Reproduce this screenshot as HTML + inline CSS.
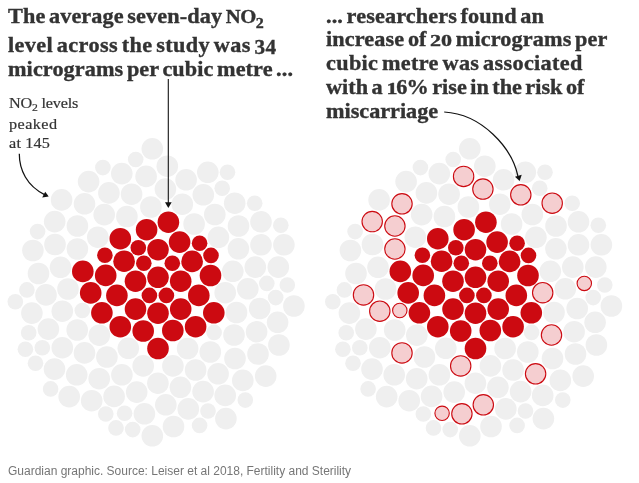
<!DOCTYPE html>
<html lang="en"><head><meta charset="utf-8"><title>NO2 and miscarriage risk</title>
<style>
html,body{margin:0;padding:0;background:#fff;}
body{width:639px;height:483px;position:relative;overflow:hidden;font-family:"Liberation Serif",serif;color:#333;}
svg{position:absolute;left:0;top:0;}
.t{position:absolute;white-space:nowrap;transform-origin:0 0;line-height:1;}
.h{font-weight:bold;font-size:21px;color:#333;-webkit-text-stroke:0.35px #333;word-spacing:-2px;}
.a{font-size:15px;color:#333;-webkit-text-stroke:0.2px #333;}
.f{font-family:"Liberation Sans",sans-serif;font-size:12px;color:#767676;}
.os{display:inline-block;font-size:16px;transform:scaleX(1.3);transform-origin:0 100%;letter-spacing:0;}
sub{font-size:0.72em;vertical-align:baseline;position:relative;top:0.3em;line-height:0;}
</style></head><body>
<svg width="639" height="483" viewBox="0 0 639 483">
<g fill="#efefef">
<circle cx="152.3" cy="148.8" r="10.8"/>
<circle cx="135.7" cy="159.5" r="7.8"/>
<circle cx="102.9" cy="167.6" r="7.8"/>
<circle cx="167.3" cy="166.2" r="10.8"/>
<circle cx="121.8" cy="173.6" r="10.8"/>
<circle cx="146.1" cy="176.4" r="10.8"/>
<circle cx="186.1" cy="179.8" r="10.8"/>
<circle cx="207.8" cy="172.3" r="10.8"/>
<circle cx="227.5" cy="172.3" r="7.8"/>
<circle cx="88.6" cy="181.6" r="10.8"/>
<circle cx="165.4" cy="189.1" r="10.8"/>
<circle cx="108.9" cy="192.9" r="10.8"/>
<circle cx="131.6" cy="194.2" r="10.8"/>
<circle cx="203.3" cy="194.8" r="10.8"/>
<circle cx="222.2" cy="188.2" r="7.8"/>
<circle cx="61.6" cy="199.9" r="10.8"/>
<circle cx="84.5" cy="203.8" r="10.8"/>
<circle cx="182.3" cy="204.2" r="10.8"/>
<circle cx="150.9" cy="207.0" r="10.8"/>
<circle cx="234.7" cy="203.2" r="10.8"/>
<circle cx="254.7" cy="203.2" r="7.8"/>
<circle cx="104.2" cy="214.6" r="10.8"/>
<circle cx="126.9" cy="216.5" r="10.8"/>
<circle cx="214.8" cy="214.5" r="10.8"/>
<circle cx="54.7" cy="221.6" r="10.8"/>
<circle cx="77.4" cy="226.0" r="10.8"/>
<circle cx="194.1" cy="224.0" r="10.8"/>
<circle cx="238.5" cy="226.0" r="10.8"/>
<circle cx="261.0" cy="221.8" r="10.8"/>
<circle cx="280.8" cy="225.2" r="7.8"/>
<circle cx="37.6" cy="231.6" r="7.8"/>
<circle cx="97.8" cy="237.2" r="10.8"/>
<circle cx="218.4" cy="237.3" r="10.8"/>
<circle cx="55.0" cy="244.5" r="10.8"/>
<circle cx="77.4" cy="249.0" r="10.8"/>
<circle cx="32.9" cy="250.5" r="10.8"/>
<circle cx="238.4" cy="248.8" r="10.8"/>
<circle cx="261.0" cy="244.8" r="10.8"/>
<circle cx="283.9" cy="244.8" r="10.8"/>
<circle cx="60.5" cy="267.3" r="10.8"/>
<circle cx="38.5" cy="273.5" r="10.8"/>
<circle cx="232.8" cy="271.3" r="10.8"/>
<circle cx="255.3" cy="267.1" r="10.8"/>
<circle cx="278.3" cy="267.1" r="10.8"/>
<circle cx="68.0" cy="289.0" r="10.8"/>
<circle cx="26.9" cy="289.9" r="7.8"/>
<circle cx="46.0" cy="294.9" r="10.8"/>
<circle cx="225.2" cy="292.7" r="10.8"/>
<circle cx="247.8" cy="288.8" r="10.8"/>
<circle cx="266.8" cy="283.4" r="7.8"/>
<circle cx="287.3" cy="285.0" r="7.8"/>
<circle cx="275.7" cy="297.6" r="7.8"/>
<circle cx="15.3" cy="301.8" r="7.8"/>
<circle cx="293.9" cy="306.0" r="10.8"/>
<circle cx="31.9" cy="313.1" r="10.8"/>
<circle cx="62.3" cy="311.2" r="10.8"/>
<circle cx="82.3" cy="310.5" r="7.8"/>
<circle cx="236.5" cy="312.5" r="10.8"/>
<circle cx="259.7" cy="308.5" r="10.8"/>
<circle cx="277.6" cy="322.3" r="10.8"/>
<circle cx="48.4" cy="329.1" r="10.8"/>
<circle cx="28.7" cy="332.8" r="7.8"/>
<circle cx="77.2" cy="330.0" r="10.8"/>
<circle cx="99.3" cy="335.2" r="10.8"/>
<circle cx="214.1" cy="332.4" r="7.8"/>
<circle cx="234.0" cy="335.0" r="10.8"/>
<circle cx="256.6" cy="331.7" r="10.8"/>
<circle cx="25.4" cy="349.2" r="7.8"/>
<circle cx="42.3" cy="347.8" r="7.8"/>
<circle cx="62.3" cy="347.7" r="10.8"/>
<circle cx="84.5" cy="352.9" r="10.8"/>
<circle cx="106.9" cy="357.0" r="10.8"/>
<circle cx="128.3" cy="348.3" r="10.8"/>
<circle cx="187.6" cy="348.5" r="10.8"/>
<circle cx="210.3" cy="352.0" r="10.8"/>
<circle cx="235.0" cy="358.5" r="10.8"/>
<circle cx="258.0" cy="354.0" r="10.8"/>
<circle cx="278.9" cy="345.0" r="10.8"/>
<circle cx="35.5" cy="363.3" r="7.8"/>
<circle cx="54.5" cy="369.1" r="10.8"/>
<circle cx="76.7" cy="374.8" r="10.8"/>
<circle cx="99.2" cy="378.7" r="10.8"/>
<circle cx="121.9" cy="374.8" r="10.8"/>
<circle cx="143.2" cy="365.9" r="10.8"/>
<circle cx="172.9" cy="365.9" r="10.8"/>
<circle cx="195.6" cy="370.0" r="10.8"/>
<circle cx="218.1" cy="373.8" r="10.8"/>
<circle cx="242.8" cy="380.4" r="10.8"/>
<circle cx="265.7" cy="376.1" r="10.8"/>
<circle cx="50.6" cy="388.9" r="7.8"/>
<circle cx="69.2" cy="396.6" r="10.8"/>
<circle cx="91.7" cy="400.7" r="10.8"/>
<circle cx="114.1" cy="396.4" r="10.8"/>
<circle cx="136.7" cy="392.1" r="10.8"/>
<circle cx="157.9" cy="383.2" r="10.8"/>
<circle cx="180.4" cy="387.3" r="10.8"/>
<circle cx="203.1" cy="391.6" r="10.8"/>
<circle cx="225.2" cy="395.4" r="10.8"/>
<circle cx="245.3" cy="400.1" r="7.8"/>
<circle cx="105.8" cy="414.0" r="7.8"/>
<circle cx="124.6" cy="413.3" r="7.8"/>
<circle cx="144.4" cy="413.8" r="10.8"/>
<circle cx="165.8" cy="404.8" r="10.8"/>
<circle cx="188.3" cy="408.9" r="10.8"/>
<circle cx="208.0" cy="411.0" r="7.8"/>
<circle cx="225.9" cy="418.6" r="10.8"/>
<circle cx="116.0" cy="427.9" r="7.8"/>
<circle cx="132.7" cy="429.6" r="7.8"/>
<circle cx="152.3" cy="435.8" r="10.8"/>
<circle cx="173.5" cy="426.5" r="10.8"/>
<circle cx="199.6" cy="425.4" r="7.8"/>
<circle cx="469.8" cy="148.8" r="10.8"/>
<circle cx="453.2" cy="159.5" r="7.8"/>
<circle cx="420.4" cy="167.6" r="7.8"/>
<circle cx="484.8" cy="166.2" r="10.8"/>
<circle cx="439.3" cy="173.6" r="10.8"/>
<circle cx="503.6" cy="179.8" r="10.8"/>
<circle cx="525.3" cy="172.3" r="10.8"/>
<circle cx="545.0" cy="172.3" r="7.8"/>
<circle cx="406.1" cy="181.6" r="10.8"/>
<circle cx="426.4" cy="192.9" r="10.8"/>
<circle cx="449.1" cy="194.2" r="10.8"/>
<circle cx="539.7" cy="188.2" r="7.8"/>
<circle cx="379.1" cy="199.9" r="10.8"/>
<circle cx="499.8" cy="204.2" r="10.8"/>
<circle cx="468.4" cy="207.0" r="10.8"/>
<circle cx="572.2" cy="203.2" r="7.8"/>
<circle cx="421.7" cy="214.6" r="10.8"/>
<circle cx="444.4" cy="216.5" r="10.8"/>
<circle cx="532.3" cy="214.5" r="10.8"/>
<circle cx="511.6" cy="224.0" r="10.8"/>
<circle cx="556.0" cy="226.0" r="10.8"/>
<circle cx="578.5" cy="221.8" r="10.8"/>
<circle cx="598.3" cy="225.2" r="7.8"/>
<circle cx="355.1" cy="231.6" r="7.8"/>
<circle cx="415.3" cy="237.2" r="10.8"/>
<circle cx="535.9" cy="237.3" r="10.8"/>
<circle cx="372.5" cy="244.5" r="10.8"/>
<circle cx="350.4" cy="250.5" r="10.8"/>
<circle cx="555.9" cy="248.8" r="10.8"/>
<circle cx="578.5" cy="244.8" r="10.8"/>
<circle cx="601.4" cy="244.8" r="10.8"/>
<circle cx="378.0" cy="267.3" r="10.8"/>
<circle cx="356.0" cy="273.5" r="10.8"/>
<circle cx="550.3" cy="271.3" r="10.8"/>
<circle cx="572.8" cy="267.1" r="10.8"/>
<circle cx="595.8" cy="267.1" r="10.8"/>
<circle cx="385.5" cy="289.0" r="10.8"/>
<circle cx="344.4" cy="289.9" r="7.8"/>
<circle cx="565.3" cy="288.8" r="10.8"/>
<circle cx="604.8" cy="285.0" r="7.8"/>
<circle cx="593.2" cy="297.6" r="7.8"/>
<circle cx="332.8" cy="301.8" r="7.8"/>
<circle cx="611.4" cy="306.0" r="10.8"/>
<circle cx="349.4" cy="313.1" r="10.8"/>
<circle cx="554.0" cy="312.5" r="10.8"/>
<circle cx="577.2" cy="308.5" r="10.8"/>
<circle cx="595.1" cy="322.3" r="10.8"/>
<circle cx="365.9" cy="329.1" r="10.8"/>
<circle cx="346.2" cy="332.8" r="7.8"/>
<circle cx="394.7" cy="330.0" r="10.8"/>
<circle cx="416.8" cy="335.2" r="10.8"/>
<circle cx="531.6" cy="332.4" r="7.8"/>
<circle cx="574.1" cy="331.7" r="10.8"/>
<circle cx="342.9" cy="349.2" r="7.8"/>
<circle cx="359.8" cy="347.8" r="7.8"/>
<circle cx="379.8" cy="347.7" r="10.8"/>
<circle cx="424.4" cy="357.0" r="10.8"/>
<circle cx="445.8" cy="348.3" r="10.8"/>
<circle cx="505.1" cy="348.5" r="10.8"/>
<circle cx="527.8" cy="352.0" r="10.8"/>
<circle cx="552.5" cy="358.5" r="10.8"/>
<circle cx="575.5" cy="354.0" r="10.8"/>
<circle cx="596.4" cy="345.0" r="10.8"/>
<circle cx="353.0" cy="363.3" r="7.8"/>
<circle cx="372.0" cy="369.1" r="10.8"/>
<circle cx="394.2" cy="374.8" r="10.8"/>
<circle cx="416.7" cy="378.7" r="10.8"/>
<circle cx="439.4" cy="374.8" r="10.8"/>
<circle cx="490.4" cy="365.9" r="10.8"/>
<circle cx="513.1" cy="370.0" r="10.8"/>
<circle cx="560.3" cy="380.4" r="10.8"/>
<circle cx="583.2" cy="376.1" r="10.8"/>
<circle cx="368.1" cy="388.9" r="7.8"/>
<circle cx="386.7" cy="396.6" r="10.8"/>
<circle cx="409.2" cy="400.7" r="10.8"/>
<circle cx="431.6" cy="396.4" r="10.8"/>
<circle cx="454.2" cy="392.1" r="10.8"/>
<circle cx="475.4" cy="383.2" r="10.8"/>
<circle cx="497.9" cy="387.3" r="10.8"/>
<circle cx="520.6" cy="391.6" r="10.8"/>
<circle cx="542.7" cy="395.4" r="10.8"/>
<circle cx="562.8" cy="400.1" r="7.8"/>
<circle cx="423.3" cy="414.0" r="7.8"/>
<circle cx="505.8" cy="408.9" r="10.8"/>
<circle cx="525.5" cy="411.0" r="7.8"/>
<circle cx="543.4" cy="418.6" r="10.8"/>
<circle cx="433.5" cy="427.9" r="7.8"/>
<circle cx="450.2" cy="429.6" r="7.8"/>
<circle cx="469.8" cy="435.8" r="10.8"/>
<circle cx="491.0" cy="426.5" r="10.8"/>
<circle cx="517.1" cy="425.4" r="7.8"/>
</g>
<g fill="#cc0a11">
<circle cx="168.4" cy="222.2" r="10.8"/>
<circle cx="146.6" cy="229.7" r="10.8"/>
<circle cx="120.3" cy="238.7" r="10.8"/>
<circle cx="179.6" cy="242.1" r="10.8"/>
<circle cx="138.3" cy="247.7" r="7.8"/>
<circle cx="158.0" cy="249.7" r="10.8"/>
<circle cx="199.6" cy="243.2" r="7.8"/>
<circle cx="104.9" cy="255.2" r="7.8"/>
<circle cx="211.0" cy="255.4" r="7.8"/>
<circle cx="124.1" cy="261.2" r="10.8"/>
<circle cx="143.8" cy="263.3" r="7.8"/>
<circle cx="172.3" cy="263.3" r="7.8"/>
<circle cx="192.1" cy="261.4" r="10.8"/>
<circle cx="82.8" cy="271.4" r="10.8"/>
<circle cx="105.7" cy="275.4" r="10.8"/>
<circle cx="158.0" cy="277.3" r="10.8"/>
<circle cx="135.5" cy="281.2" r="10.8"/>
<circle cx="180.7" cy="281.2" r="10.8"/>
<circle cx="210.5" cy="275.5" r="10.8"/>
<circle cx="90.7" cy="292.9" r="10.8"/>
<circle cx="116.9" cy="295.4" r="10.8"/>
<circle cx="149.4" cy="295.4" r="7.8"/>
<circle cx="166.4" cy="295.4" r="7.8"/>
<circle cx="198.8" cy="295.4" r="10.8"/>
<circle cx="135.5" cy="309.1" r="10.8"/>
<circle cx="158.0" cy="313.2" r="10.8"/>
<circle cx="180.7" cy="309.1" r="10.8"/>
<circle cx="101.9" cy="312.8" r="10.8"/>
<circle cx="213.8" cy="312.8" r="10.8"/>
<circle cx="120.3" cy="326.7" r="10.8"/>
<circle cx="143.2" cy="331.0" r="10.8"/>
<circle cx="172.8" cy="330.5" r="10.8"/>
<circle cx="195.6" cy="326.7" r="10.8"/>
<circle cx="158.0" cy="348.5" r="10.8"/>
<circle cx="485.9" cy="222.2" r="10.8"/>
<circle cx="464.1" cy="229.7" r="10.8"/>
<circle cx="437.8" cy="238.7" r="10.8"/>
<circle cx="497.1" cy="242.1" r="10.8"/>
<circle cx="455.8" cy="247.7" r="7.8"/>
<circle cx="475.5" cy="249.7" r="10.8"/>
<circle cx="517.1" cy="243.2" r="7.8"/>
<circle cx="422.4" cy="255.2" r="7.8"/>
<circle cx="528.5" cy="255.4" r="7.8"/>
<circle cx="441.6" cy="261.2" r="10.8"/>
<circle cx="461.3" cy="263.3" r="7.8"/>
<circle cx="489.8" cy="263.3" r="7.8"/>
<circle cx="509.6" cy="261.4" r="10.8"/>
<circle cx="400.3" cy="271.4" r="10.8"/>
<circle cx="423.2" cy="275.4" r="10.8"/>
<circle cx="475.5" cy="277.3" r="10.8"/>
<circle cx="453.0" cy="281.2" r="10.8"/>
<circle cx="498.2" cy="281.2" r="10.8"/>
<circle cx="528.0" cy="275.5" r="10.8"/>
<circle cx="408.2" cy="292.9" r="10.8"/>
<circle cx="434.4" cy="295.4" r="10.8"/>
<circle cx="466.9" cy="295.4" r="7.8"/>
<circle cx="483.9" cy="295.4" r="7.8"/>
<circle cx="516.3" cy="295.4" r="10.8"/>
<circle cx="453.0" cy="309.1" r="10.8"/>
<circle cx="475.5" cy="313.2" r="10.8"/>
<circle cx="498.2" cy="309.1" r="10.8"/>
<circle cx="419.4" cy="312.8" r="10.8"/>
<circle cx="531.3" cy="312.8" r="10.8"/>
<circle cx="437.8" cy="326.7" r="10.8"/>
<circle cx="460.7" cy="331.0" r="10.8"/>
<circle cx="490.3" cy="330.5" r="10.8"/>
<circle cx="513.1" cy="326.7" r="10.8"/>
<circle cx="475.5" cy="348.5" r="10.8"/>
</g>
<g fill="#f5ced0" stroke="#cc0a11" stroke-width="1.1">
<circle cx="463.6" cy="176.4" r="10.2"/>
<circle cx="482.9" cy="189.1" r="10.2"/>
<circle cx="520.8" cy="194.8" r="10.2"/>
<circle cx="402.0" cy="203.8" r="10.2"/>
<circle cx="552.2" cy="203.2" r="10.2"/>
<circle cx="372.2" cy="221.6" r="10.2"/>
<circle cx="394.9" cy="226.0" r="10.2"/>
<circle cx="394.9" cy="249.0" r="10.2"/>
<circle cx="363.5" cy="294.9" r="10.2"/>
<circle cx="542.7" cy="292.7" r="10.2"/>
<circle cx="584.3" cy="283.4" r="7.2"/>
<circle cx="379.8" cy="311.2" r="10.2"/>
<circle cx="399.8" cy="310.5" r="7.2"/>
<circle cx="551.5" cy="335.0" r="10.2"/>
<circle cx="402.0" cy="352.9" r="10.2"/>
<circle cx="460.7" cy="365.9" r="10.2"/>
<circle cx="535.6" cy="373.8" r="10.2"/>
<circle cx="442.1" cy="413.3" r="7.2"/>
<circle cx="461.9" cy="413.8" r="10.2"/>
<circle cx="483.3" cy="404.8" r="10.2"/>
</g>
<g fill="none" stroke="#121212" stroke-width="1.1">
<path d="M168.3 79 L168.3 203"/>
<path stroke-width="1.25" d="M19.3 153.8 C19.3 170 27 186 44.5 194.6"/>
<path stroke-width="1.25" d="M444.2 112 C482 114 512 148 517.9 176"/>
</g>
<g fill="#121212">
<path d="M165 202.2 L171.7 202.2 L168.3 207.9 Z"/>
<path d="M48.7 196.6 L45.2 191.7 L42.2 197.4 Z"/>
<path d="M519.7 181 L521.7 174.8 L515 176.8 Z"/>
</g>
</svg>
<div class="t h" id="h1" style="left:8.3px;top:6px;letter-spacing:0.090px;transform:scaleX(1.060);">The average seven-day <span style="font-size:19.5px;letter-spacing:-0.4px">NO</span><sub>2</sub></div>
<div class="t h" id="h2" style="left:8.3px;top:35px;letter-spacing:0.337px;transform:scaleX(1.060);">level across the study was <span style="position:relative;top:2px;font-size:20px">34</span></div>
<div class="t h" id="h3" style="left:8.3px;top:59px;letter-spacing:0.075px;transform:scaleX(1.060);">micrograms per cubic metre ...</div>
<div class="t h" id="r1" style="left:325.8px;top:6px;letter-spacing:0.105px;transform:scaleX(1.060);">... researchers found an</div>
<div class="t h" id="r2" style="left:325.8px;top:29px;letter-spacing:0.101px;transform:scaleX(1.060);">increase of <span class="os" style="margin-right:4.8px">20</span> micrograms per</div>
<div class="t h" id="r3" style="left:325.8px;top:53px;letter-spacing:0.293px;transform:scaleX(1.060);">cubic metre was associated</div>
<div class="t h" id="r4" style="left:325.8px;top:77px;letter-spacing:0.002px;transform:scaleX(1.060);">with a <span class="os" style="margin-right:1.6px">1</span><span style="letter-spacing:-0.9px">6</span>% rise in the risk of</div>
<div class="t h" id="r5" style="left:325.8px;top:101px;letter-spacing:-0.029px;transform:scaleX(1.060);">miscarriage</div>
<div class="t a" id="a1" style="left:9.0px;top:96px;letter-spacing:-0.180px;transform:scaleX(1.080);">NO<sub>2</sub> levels</div>
<div class="t a" id="a2" style="left:9.0px;top:117px;letter-spacing:0.392px;transform:scaleX(1.080);">peaked</div>
<div class="t a" id="a3" style="left:9.0px;top:136px;letter-spacing:0.172px;transform:scaleX(1.080);">at 145</div>
<div class="t f" id="f1" style="left:8.0px;top:465px;letter-spacing:-0.006px;">Guardian graphic. Source: Leiser et al 2018, Fertility and Sterility</div>
</body></html>
